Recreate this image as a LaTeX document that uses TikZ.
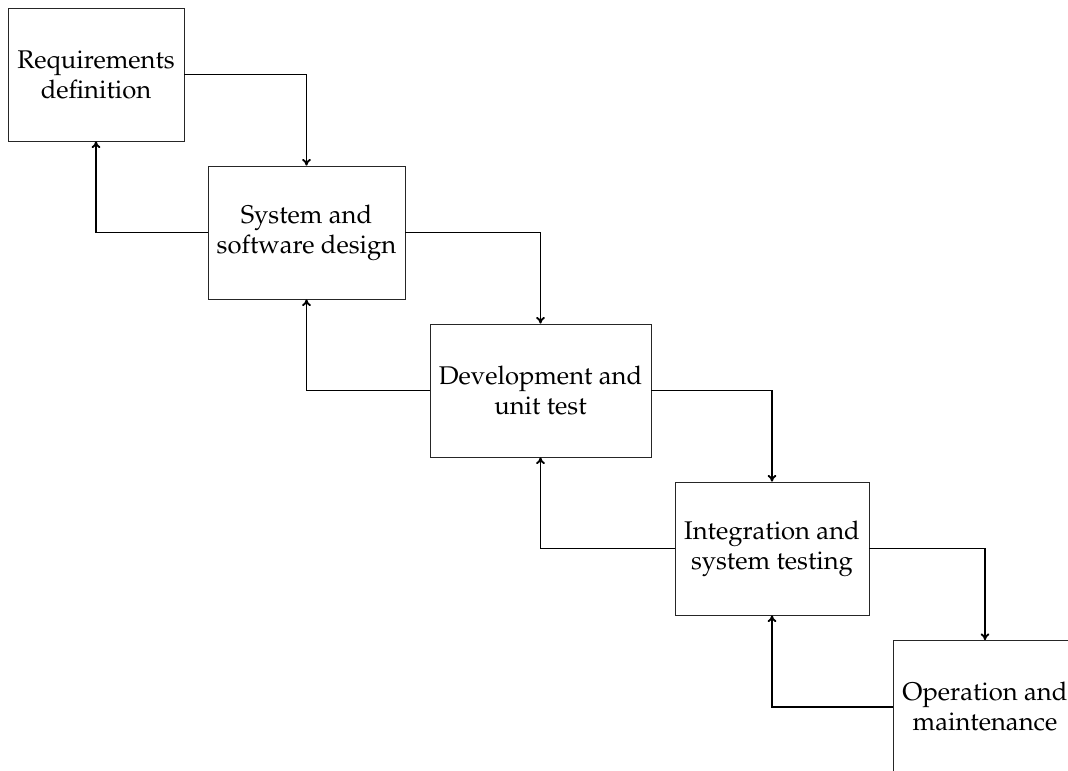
\documentclass[tikz,border=0pt]{standalone}
\IfFileExists{mathpazo.sty}{%
  \usepackage[T1]{fontenc}\usepackage{mathpazo}\def\stagesize{19.2}}{%
  \usepackage{fontspec}\setmainfont{Liberation Serif}\def\stagesize{21}}
\usetikzlibrary{arrows.meta}
\begin{document}
\begin{tikzpicture}[x=0.75pt,y=-0.75pt,
  phase/.style={draw=black!85, line width=0.6pt, align=center,
    minimum height=99.75pt, inner sep=0pt,
    font=\fontsize{\stagesize}{22.5}\selectfont},
  flow/.style={-{To[length=5pt,width=6.5pt]}, line width=1.4pt}]
  \useasboundingbox (0,0) rectangle (1068,771);
  % waterfall stages
  \node[phase, minimum width=132pt] (req) at (96,74.5) {Requirements\\definition};
  \node[phase, minimum width=147.75pt] (des) at (306.5,232.5) {System and\\software design};
  \node[phase, minimum width=165.75pt] (dev) at (540.5,390.5) {Development and\\unit test};
  \node[phase, minimum width=145.5pt] (int) at (772,548.5) {Integration and\\system testing};
  \node[phase, minimum width=138pt] (ops) at (985,707) {Operation and\\maintenance};
  % forward flow
  \draw[flow] (req.east) -| (des.north);
  \draw[flow] (des.east) -| (dev.north);
  \draw[flow] (dev.east) -| (int.north);
  \draw[flow] (int.east) -| (ops.north);
  % feedback loops
  \draw[flow] (des.west) -| (req.south);
  \draw[flow] (dev.west) -| (des.south);
  \draw[flow] (int.west) -| (dev.south);
  \draw[flow] (ops.west) -| (int.south);
\end{tikzpicture}
\end{document}
